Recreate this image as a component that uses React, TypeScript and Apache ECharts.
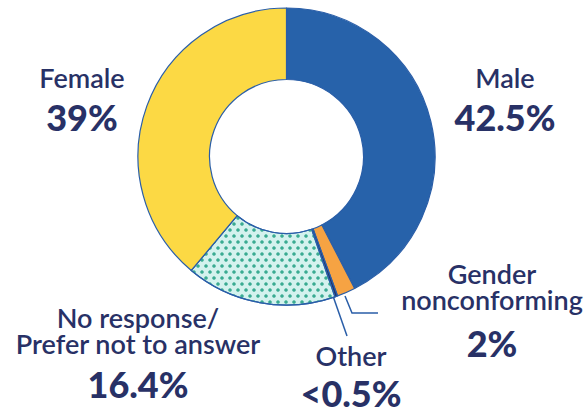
import React, { useEffect, useRef } from "react";
import * as echarts from "echarts";

const categories = ["Male", "Gender\nnonconforming", "Other", "No response/\nPrefer not to answer", "Female"];
const values = [42.5, 2, 0.3, 16.4, 39];
const valueLabels = ["42.5%", "2%", "<0.5%", "16.4%", "39%"];
const sliceColors = ["#2762aa", "#f6a343", "#22366f", "#d4f2ee", "#fcd944"];

// label layout: centre x, top y, name line heights, value line height, optional leader line
const labelPlaces = [
  { x: 505, y: 57.5, nh: [40], vh: 38, line: null as number[][] | null },
  { x: 492, y: 260.5, nh: [26, 26], vh: 60, line: [[345, 296], [352, 313], [378, 313]] },
  { x: 351, y: 332, nh: [46], vh: 30, line: [[333, 296], [347, 336]] },
  { x: 138, y: 304, nh: [26, 26], vh: 56, line: null },
  { x: 82, y: 57, nh: [40], vh: 40, line: null },
];

const TEXT = "#283166";
const EDGE = "#2a5ea8";

export default function App() {
  const ref = useRef<HTMLDivElement>(null);
  useEffect(() => {
    document.body.style.margin = "0";
    const chart = echarts.init(ref.current!, null, { renderer: "svg" });
    const data = categories.map((name, i) => {
      const p = labelPlaces[i];
      const rich: any = {
        v: { fontFamily: "Lato", fontSize: 36, fontWeight: 900, color: TEXT, lineHeight: p.vh, align: "center" },
      };
      const lines = name.split("\n").map((l, k) => {
        rich["n" + k] = { fontFamily: "Lato", fontSize: 27, fontWeight: 600, color: TEXT, lineHeight: p.nh[k], align: "center" };
        return `{n${k}|${l}}`;
      }).join("\n");
      const item: any = {
        name,
        value: values[i],
        itemStyle: { color: sliceColors[i] },
        label: { formatter: `${lines}\n{v|${valueLabels[i]}}`, rich },
        labelLine: { show: !!p.line, lineStyle: { color: EDGE, width: 1.5 } },
      };
      if (i === 3) {
        item.itemStyle.decal = {
          symbol: "circle",
          symbolSize: 0.9,
          color: "#3aab92",
          dashArrayX: [[4, 4], [0, 4, 4, 0]],
          dashArrayY: [4, 2],
          rotation: 0,
        };
      }
      return item;
    });
    chart.setOption({
      animation: false,
      series: [
        {
          type: "pie",
          center: [286.5, 156.5],
          radius: [77, 148.5],
          startAngle: 90,
          clockwise: true,
          avoidLabelOverlap: false,
          silent: true,
          itemStyle: { borderColor: EDGE, borderWidth: 1.2 },
          label: { show: true, position: "outside" },
          labelLine: { show: false },
          labelLayout: (params: any) => {
            const p = labelPlaces[params.dataIndex];
            const out: any = { x: p.x, y: p.y, align: "center", verticalAlign: "top" };
            if (p.line) out.labelLinePoints = p.line;
            return out;
          },
          data,
        },
      ],
    });
    return () => chart.dispose();
  }, []);
  return <div ref={ref} style={{ width: 588, height: 414 }} />;
}
